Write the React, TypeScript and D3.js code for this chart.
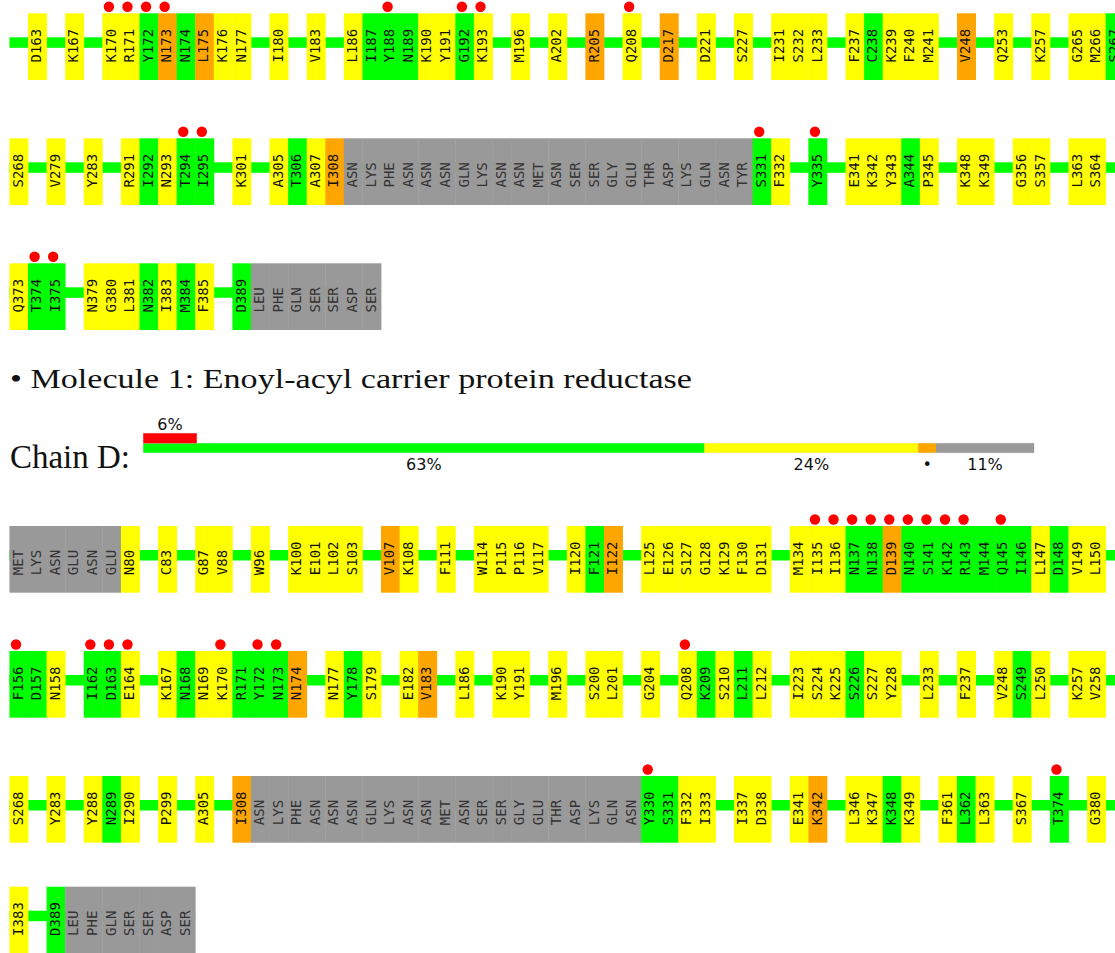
import { useRef, useEffect } from "react";
import * as d3 from "d3";

// residue tokens "NAME:q" -> q: g green, y yellow, o orange, n not modelled (grey); "" = chain break
const loop309 = ["ASN", "LYS", "PHE", "ASN", "ASN", "ASN", "GLN", "LYS", "ASN", "ASN", "MET", "ASN", "SER", "SER", "GLY", "GLU", "THR", "ASP", "LYS", "GLN", "ASN"];
const tail390 = ["LEU", "PHE", "GLN", "SER", "SER", "ASP", "SER"];
const head74 = ["MET", "LYS", "ASN", "GLU", "ASN", "GLU"];
const grey = (names: string[]) => names.map((n) => n + ":n");

// previous chain (top of page)
const upperRow1 = ["", "D163:y", "", "K167:y", "", "K170:y", "R171:y", "Y172:g", "N173:o", "N174:g", "L175:o", "K176:y", "N177:y", "", "I180:y", "", "V183:y", "", "L186:y", "I187:g", "Y188:g", "N189:g", "K190:y", "Y191:y", "G192:g", "K193:y", "", "M196:y", "", "A202:y", "", "R205:o", "", "Q208:y", "", "D217:o", "", "D221:y", "", "S227:y", "", "I231:y", "S232:y", "L233:y", "", "F237:y", "C238:g", "K239:y", "F240:y", "M241:y", "", "V248:o", "", "Q253:y", "", "K257:y", "", "G265:y", "M266:y", "S267:g"];
const upperRow2 = ["S268:y", "", "V279:y", "", "Y283:y", "", "R291:y", "I292:g", "N293:y", "T294:g", "I295:g", "", "K301:y", "", "A305:y", "T306:g", "A307:y", "I308:o", ...grey(loop309), "TYR:n", "S331:g", "F332:y", "", "Y335:g", "", "E341:y", "K342:y", "Y343:y", "A344:g", "P345:y", "", "K348:y", "K349:y", "", "G356:y", "S357:y", "", "L363:y", "S364:y", ""];
const upperRow3 = ["Q373:y", "T374:g", "I375:g", "", "N379:y", "G380:y", "L381:y", "N382:g", "I383:y", "M384:g", "F385:y", "", "D389:g", ...grey(tail390)];

const upperClash1 = ["K170", "R171", "Y172", "N173", "Y188", "G192", "K193", "Q208"];
const upperClash2 = ["T294", "I295", "S331", "Y335"];
const upperClash3 = ["T374", "I375"];

// chain D
const chainDRow1 = [...grey(head74), "N80:y", "", "C83:y", "", "G87:y", "V88:y", "", "W96:y", "", "K100:y", "E101:y", "L102:y", "S103:y", "", "V107:o", "K108:y", "", "F111:y", "", "W114:y", "P115:y", "P116:y", "V117:y", "", "I120:y", "F121:g", "I122:o", "", "L125:y", "E126:y", "S127:y", "G128:y", "K129:y", "F130:y", "D131:y", "", "M134:y", "I135:y", "I136:y", "N137:g", "N138:g", "D139:o", "N140:g", "S141:g", "K142:g", "R143:g", "M144:g", "Q145:g", "I146:g", "L147:y", "D148:g", "V149:y", "L150:y", ""];
const chainDRow2 = ["F156:g", "D157:g", "N158:y", "", "I162:g", "D163:g", "E164:y", "", "K167:y", "N168:g", "N169:y", "K170:y", "R171:g", "Y172:g", "N173:g", "N174:o", "", "N177:y", "Y178:g", "S179:y", "", "E182:y", "V183:o", "", "L186:y", "", "K190:y", "Y191:y", "", "M196:y", "", "S200:y", "L201:y", "", "G204:y", "", "Q208:y", "K209:g", "S210:y", "L211:g", "L212:y", "", "I223:y", "S224:y", "K225:y", "S226:g", "S227:y", "Y228:y", "", "L233:y", "", "F237:y", "", "V248:y", "S249:g", "L250:y", "", "K257:y", "V258:y", ""];
const chainDRow3 = ["S268:y", "", "Y283:y", "", "Y288:y", "N289:g", "I290:y", "", "P299:y", "", "A305:y", "", "I308:o", ...grey(loop309), "Y330:g", "S331:g", "F332:y", "I333:y", "", "I337:y", "D338:y", "", "E341:y", "K342:o", "", "L346:y", "K347:y", "K348:g", "K349:y", "", "F361:y", "L362:g", "L363:y", "", "S367:y", "", "T374:g", "", "G380:y", ""];
const chainDRow4 = ["I383:y", "", "D389:g", ...grey(tail390)];

const chainDClash1 = ["I135", "I136", "N137", "N138", "D139", "N140", "S141", "K142", "R143", "Q145"];
const chainDClash2 = ["F156", "I162", "D163", "E164", "K170", "Y172", "N173", "Q208"];
const chainDClash3 = ["Y330", "T374"];
const chainDClash4: string[] = [];

// chain D quality bar (percent)
const qualityKeys = ["g", "y", "o", "n"];
const qualityPct = [63, 24, 2, 11];
const qualityLabels = ["63%", "24%", "•", "11%"];
const outlierPct = 6;
const outlierLabel = "6%";

const moleculeTitle = "• Molecule 1: Enoyl-acyl carrier protein reductase";
const chainTitle = "Chain D:";

const fillFor: Record<string, string> = {
  g: "#00ff00",
  y: "#ffff00",
  o: "#ffa500",
  n: "#999999",
};

const ResidueChart = () => {
  const chartRef = useRef<HTMLDivElement | null>(null);

  useEffect(() => {
    if (chartRef.current === null) {
      return;
    }

    const width = 1115;
    const height = 953;
    const cells = 60;
    const boxHeight = 66.7;
    const rowStep = 110.7; // row pitch without clash dots
    const dotSpace = 14.3; // extra room when a row carries clash dots

    d3.select(chartRef.current).select("svg").remove();

    const svg = d3
      .select(chartRef.current)
      .append("svg")
      .attr("width", width)
      .attr("height", height)
      .style("display", "block");

    const x = d3.scaleLinear().domain([0, cells]).range([9.42, 9.42 + cells * 18.58]);
    const cellW = x(1) - x(0);

    const blocks = [
      { top: 13.3, rows: [upperRow1, upperRow2, upperRow3], clashes: [upperClash1, upperClash2, upperClash3] },
      { top: 526, rows: [chainDRow1, chainDRow2, chainDRow3, chainDRow4], clashes: [chainDClash1, chainDClash2, chainDClash3, chainDClash4] },
    ];

    blocks.forEach((block) => {
      let top = block.top;
      block.rows.forEach((row, ri) => {
        const clashes = block.clashes[ri];
        if (ri > 0) top += rowStep + (clashes.length ? dotSpace : 0);

        const g = svg.append("g").attr("transform", `translate(0,${top})`);

        // backbone line
        g.append("rect")
          .attr("x", x(0))
          .attr("y", 24)
          .attr("width", x(row.length) - x(0))
          .attr("height", 10.5)
          .attr("fill", "#00ff00");

        const residues = row
          .map((t, i) => ({ name: t.split(":")[0], q: t.split(":")[1], i }))
          .filter((d) => d.name !== "");

        g.selectAll(".res")
          .data(residues)
          .enter()
          .append("rect")
          .attr("class", "res")
          .attr("x", (d) => x(d.i))
          .attr("y", 0)
          .attr("width", cellW + 0.4)
          .attr("height", boxHeight)
          .attr("fill", (d) => fillFor[d.q]);

        g.selectAll(".lab")
          .data(residues)
          .enter()
          .append("text")
          .attr("class", "lab")
          .attr("transform", (d) => `translate(${x(d.i) + cellW / 2 - 1},${boxHeight - 17.5}) rotate(-90)`)
          .attr("dy", "0.35em")
          .attr("font-family", "'DejaVu Sans Mono', monospace")
          .attr("font-size", 14)
          .attr("fill", (d) => (d.q === "n" ? "#333" : "#111"))
          .text((d) => d.name);

        g.selectAll(".clash")
          .data(residues.filter((d) => clashes.includes(d.name)))
          .enter()
          .append("circle")
          .attr("class", "clash")
          .attr("cx", (d) => x(d.i) + cellW / 2 - 2.7)
          .attr("cy", -6.5)
          .attr("r", 5.2)
          .attr("fill", "#ff0000");
      });
    });

    // Molecule heading
    svg
      .append("text")
      .attr("x", 10)
      .attr("y", 387.5)
      .attr("font-family", "'Liberation Serif', serif")
      .attr("font-size", 27)
      .attr("textLength", 682)
      .attr("lengthAdjust", "spacingAndGlyphs")
      .attr("fill", "#111")
      .text(moleculeTitle);

    svg
      .append("text")
      .attr("x", 10)
      .attr("y", 468.3)
      .attr("font-family", "'Liberation Serif', serif")
      .attr("font-size", 33)
      .attr("textLength", 120)
      .attr("lengthAdjust", "spacingAndGlyphs")
      .attr("fill", "#111")
      .text(chainTitle);

    // quality bar
    const pct = d3.scaleLinear().domain([0, 100]).range([143.3, 1034]);
    const starts = d3.cumsum([0, ...qualityPct]);
    const segs = qualityKeys.map((k, i) => ({ k, from: starts[i], to: starts[i + 1], label: qualityLabels[i] }));

    const bar = svg.append("g");
    bar.append("rect")
      .attr("x", pct(0) - 0.5)
      .attr("y", 443.3 - 0.5)
      .attr("width", pct(100) - pct(0) + 1)
      .attr("height", 9.4 + 1)
      .attr("fill", "#dddddd");

    bar.selectAll(".seg")
      .data(segs)
      .enter()
      .append("rect")
      .attr("class", "seg")
      .attr("x", (d) => pct(d.from))
      .attr("y", 443.3)
      .attr("width", (d) => pct(d.to) - pct(d.from))
      .attr("height", 9.4)
      .attr("fill", (d) => fillFor[d.k]);

    bar.selectAll(".seglab")
      .data(segs)
      .enter()
      .append("text")
      .attr("class", "seglab")
      .attr("x", (d) => (pct(d.from) + pct(d.to)) / 2)
      .attr("y", 469.5)
      .attr("text-anchor", "middle")
      .attr("font-family", "'DejaVu Sans', sans-serif")
      .attr("font-size", 16)
      .attr("fill", "#111")
      .text((d) => d.label);

    bar.append("rect")
      .attr("x", pct(0) - 0.5)
      .attr("y", 433.3 - 0.5)
      .attr("width", pct(outlierPct) - pct(0) + 1)
      .attr("height", 10.5)
      .attr("fill", "#dddddd");
    bar.append("rect")
      .attr("x", pct(0))
      .attr("y", 433.3)
      .attr("width", pct(outlierPct) - pct(0))
      .attr("height", 10)
      .attr("fill", "#ff0000");
    bar.append("text")
      .attr("x", (pct(0) + pct(outlierPct)) / 2)
      .attr("y", 430)
      .attr("text-anchor", "middle")
      .attr("font-family", "'DejaVu Sans', sans-serif")
      .attr("font-size", 16)
      .attr("fill", "#111")
      .text(outlierLabel);
  }, []);

  return <div ref={chartRef} style={{ position: "absolute", left: 0, top: 0, width: 1115, height: 953, overflow: "hidden" }} />;
};

export default function App() {
  return <ResidueChart />;
}
